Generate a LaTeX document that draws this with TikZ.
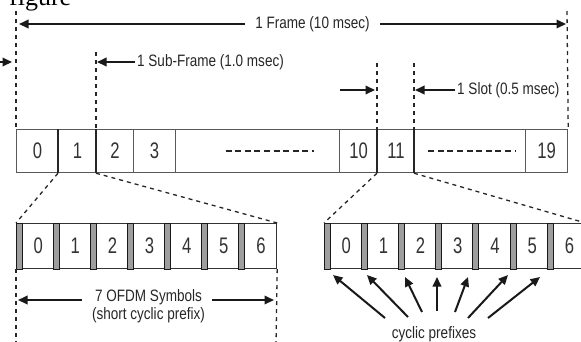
\documentclass[tikz,border=0pt]{standalone}
\usepackage{fontspec}
\setmainfont{Liberation Serif}
\newfontfamily\narrow[FakeStretch=0.82]{Liberation Sans}
\newfontfamily\narrowd[FakeStretch=0.74]{Liberation Sans}
\usetikzlibrary{arrows.meta,calc}
\begin{document}
\begin{tikzpicture}[x=1pt,y=-1pt,
  lbl/.style={font=\narrow\fontsize{16.5}{19}\selectfont, text=black!85, inner sep=0pt},
  dig/.style={font=\narrowd\fontsize{22.5}{24}\selectfont, text=black!80},
  guide/.style={dash pattern=on 4pt off 4pt, line width=1.3pt, draw=black!85},
  arr/.style={line width=2pt, draw=black!90, -{Triangle[length=9.5pt,width=8.5pt]}},
  cellbox/.style={dig, draw=black!65, line width=1.2pt, minimum height=43pt, inner sep=0pt, anchor=north west},
  symbox/.style={dig, draw=black!80, line width=1.2pt, minimum height=45pt, minimum width=37.2pt, inner sep=0pt, anchor=north west},
  pfx/.style={draw=black!90, fill=black!38, line width=1pt}
]
\useasboundingbox (0,0) rectangle (581,341);
\node[font=\fontsize{26}{28}\selectfont, anchor=base west, inner sep=0pt] (fig) at (9,5) {figure};

% top row of slots
\node[cellbox, minimum width=42pt] (c0) at (16,129) {0};
\node[cellbox, minimum width=38pt] (c1) at (58,129) {1};
\node[cellbox, minimum width=37pt] (c2) at (96,129) {2};
\node[cellbox, minimum width=42pt] (c3) at (133,129) {3};
\node[cellbox, minimum width=164pt] (d1) at (175,129) {};
\node[cellbox, minimum width=38pt] (c10) at (339,129) {10};
\node[cellbox, minimum width=37pt] (c11) at (377,129) {11};
\node[cellbox, minimum width=111pt] (d2) at (414,129) {};
\node[cellbox, minimum width=42pt] (c19) at (525,129) {19};
\draw[line width=1.8pt, dash pattern=on 6pt off 3.6pt, black!85] ($(d1.center)+(-32,0)$) -- ($(d1.center)+(56,0)$);
\draw[line width=1.8pt, dash pattern=on 6pt off 3.6pt, black!85] ($(d2.center)+(-42,0)$) -- ($(d2.center)+(45,0)$);
\foreach \n in {c1,c2,c11,d2} \draw[line width=1.4pt, black!85] (\n.north west) -- (\n.south west);

% lower left symbols
\foreach \i in {0,...,6} {
  \node[symbox, minimum width=37.14pt] (a\i) at (16+\i*37.14,223) {\hspace*{6pt}\i};
  \draw[pfx] (a\i.north west) rectangle ($(a\i.south west)+(6,0)$);
}
% lower right symbols
\foreach \i in {0,...,6} {
  \node[symbox] (b\i) at (324+\i*37.2,223) {\hspace*{6pt}\i};
  \draw[pfx] (b\i.north west) rectangle ($(b\i.south west)+(6,0)$);
}

% guide lines
\coordinate (fl) at (16,11);
\coordinate (fr) at (567,11);
\coordinate (sf) at (96,52);
\coordinate (s1) at (377,63);
\coordinate (s2) at (414,63);
\draw[guide] (fl) -- (c0.north west);
\draw[guide] (fr) -- (c19.north east);
\draw[guide] (sf) -- (c2.north west);
\draw[guide] (s1) -- (c11.north west);
\draw[guide] (s2) -- (d2.north west);
\coordinate (ll) at (16,345);
\coordinate (lr) at (276,345);
\draw[guide] (a0.south west) -- (ll);
\draw[guide] (a6.south east) -- (lr);

% zoom connectors
\draw[guide] (c1.south west) -- (a0.north west);
\draw[guide] (c2.south west) -- (a6.north east);
\draw[guide] (c11.south west) -- (b0.north west);
\draw[guide] (d2.south west) -- (b6.north east);

% frame
\node[lbl] (frame) at (312.5,24) {1 Frame (10 msec)};
\draw[arr, shorten <=10pt, shorten >=3pt] (frame.west) -- (fl |- frame);
\draw[arr, shorten <=10pt, shorten >=1pt] (frame.east) -- (fr |- frame);

% sub-frame
\node[lbl, anchor=west] (sub) at (137,62) {1 Sub-Frame (1.0 msec)};
\draw[arr, shorten <=2pt, shorten >=1pt] (sub.west) -- (sf |- sub);
\coordinate (subl) at (-30,62);
\draw[arr, shorten >=4pt] (subl) -- (fl |- sub);

% slot
\node[lbl, anchor=west] (slot) at (457,90) {1 Slot (0.5 msec)};
\draw[arr, shorten <=2pt, shorten >=1pt] (slot.west) -- (s2 |- slot);
\coordinate (slotl) at (340,90);
\draw[arr, shorten >=2pt] (slotl) -- (s1 |- slot);

% 7 OFDM symbols
\node[lbl, align=center] (ofdm) at (148.5,306) {7 OFDM Symbols\\[-1pt](short cyclic prefix)};
\coordinate (oy) at (0,300);
\draw[arr, shorten <=10pt, shorten >=2pt] (ofdm.west |- oy) -- (ll |- oy);
\draw[arr, shorten <=7pt, shorten >=2pt] (ofdm.east |- oy) -- (lr |- oy);

% cyclic prefixes
\node[lbl] (cp) at (434,334) {cyclic prefixes};
\foreach \tx/\ty/\hx/\hy in {385/318/333/275, 408/317/367/275, 422/312/405/277, 437/311/437/277, 455/312/468/277, 468/318/508/275, 488/318/540/277} {
  \draw[arr] (\tx,\ty) -- (\hx,\hy);
}
\end{tikzpicture}
\end{document}
